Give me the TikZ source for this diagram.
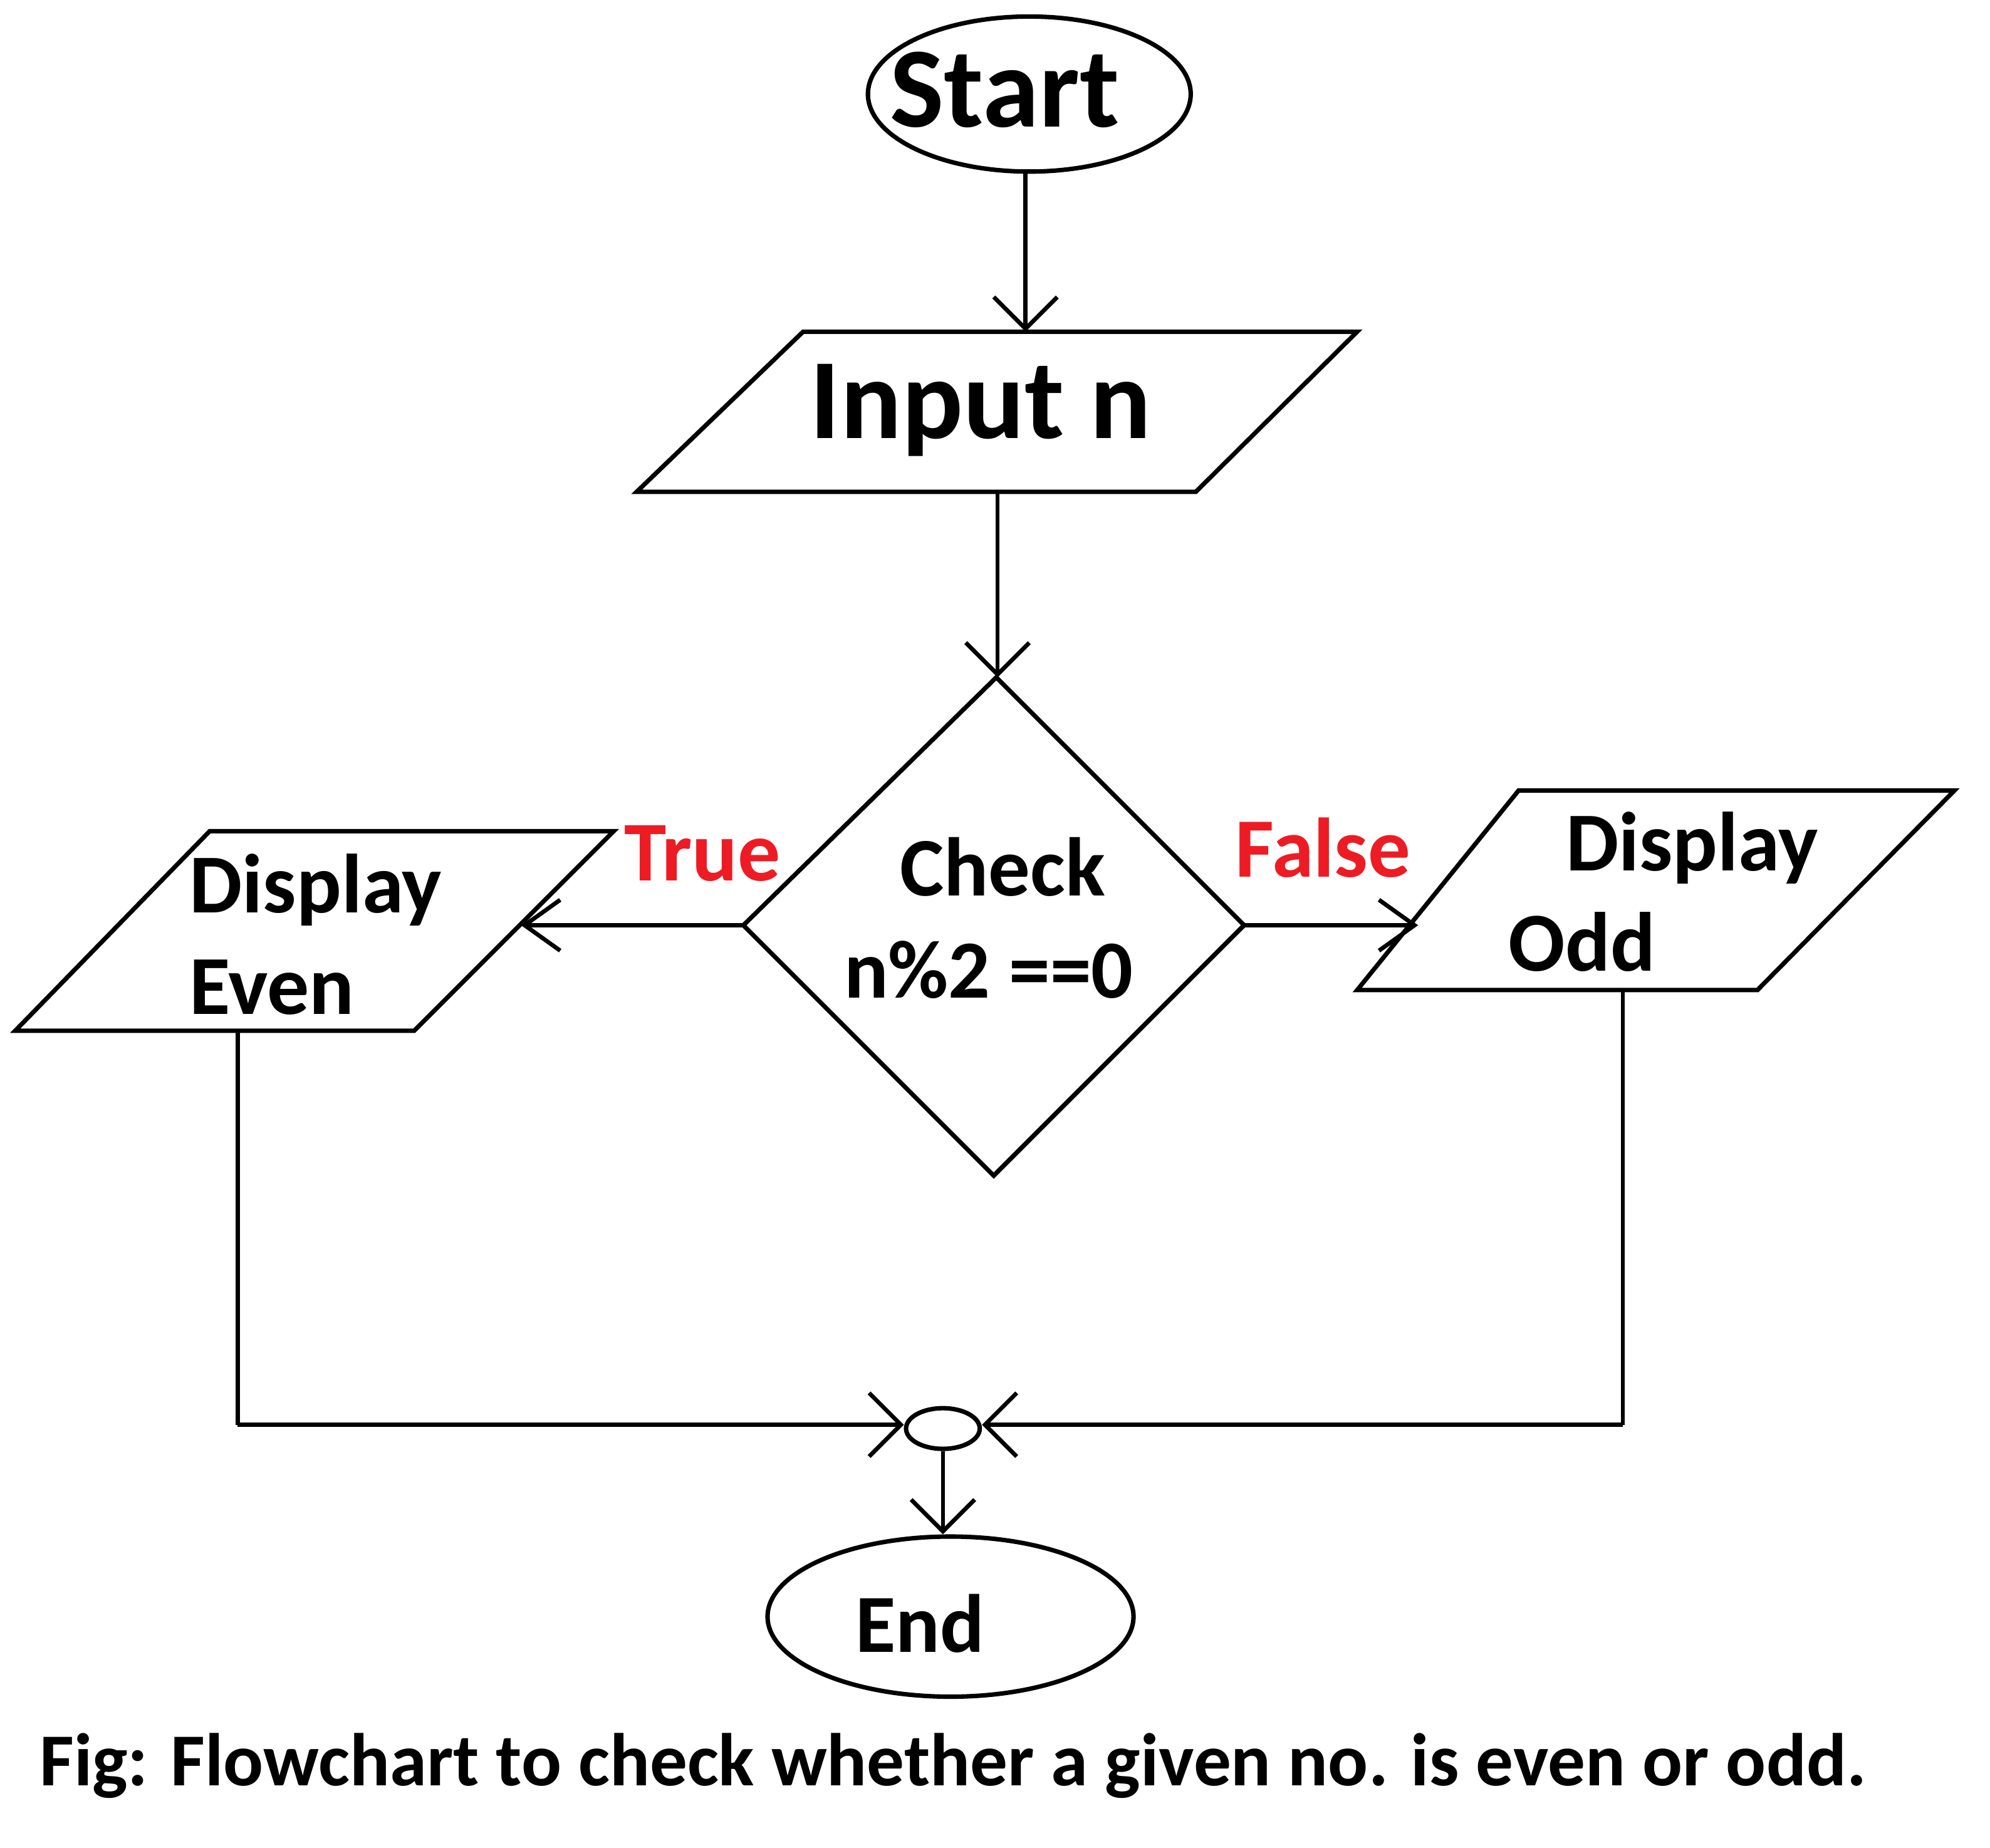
\documentclass[tikz,border=0pt]{standalone}
\usepackage{fontspec}
\setmainfont{Carlito}
\usetikzlibrary{arrows.meta,shapes.geometric}
\definecolor{lblred}{HTML}{ED1C24}
\tikzset{
  shape line/.style={draw=black,line width=3.5pt,line join=miter},
  conn/.style={draw=black,line width=3.3pt},
  arr/.style={conn,-{Straight Barb[length=25pt,width=50pt,line width=3.3pt]}},
  sarr/.style={conn,-{Straight Barb[length=28pt,width=40pt,line width=3.3pt]}},
  txt/.style={anchor=base west,inner sep=0pt,font=\bfseries\fontsize{66}{70}\selectfont},
  lbl/.style={txt,text=lblred,font=\bfseries\fontsize{67}{70}\selectfont},
}
\begin{document}
\begin{tikzpicture}[x=1pt,y=-1pt]
\useasboundingbox (0,0) rectangle (1566,1453.6);
\fill[white] (0,0) rectangle (1566,1453.6);
% terminals
\node[ellipse,shape line,minimum width=254pt,minimum height=122pt,inner sep=0pt] (start) at (810,74) {};
\node[txt,font=\bfseries\fontsize{90}{94}\selectfont] (starttxt) at (700,100) {Start};
\node[ellipse,shape line,minimum width=288pt,minimum height=126pt,inner sep=0pt] (end) at (748,1272) {};
\node[txt,font=\bfseries\fontsize{65}{68}\selectfont] (endtxt) at (673,1300) {End};
% input
\coordinate (inTL) at (632,261); \coordinate (inTR) at (1068,261);
\coordinate (inBR) at (941,387); \coordinate (inBL) at (501,387);
\draw[shape line] (inTL) -- (inTR) -- (inBR) -- (inBL) -- cycle;
\node[txt,font=\bfseries\fontsize{90}{94}\selectfont] (intxt) at (637,345) {Input n};
% decision
\coordinate (dT) at (784,533); \coordinate (dR) at (979,728);
\coordinate (dB) at (782,925); \coordinate (dL) at (585,728);
\draw[shape line] (dT) -- (dR) -- (dB) -- (dL) -- cycle;
\node[txt,font=\bfseries\fontsize{65.5}{70}\selectfont] (chk1) at (708,705) {Check};
\node[txt,font=\bfseries\fontsize{65}{70}\selectfont] (chk2) at (664,785) {n\%2 ==0};
% display even
\coordinate (eTL) at (165,654); \coordinate (eTR) at (483,654);
\coordinate (eBR) at (326,811); \coordinate (eBL) at (12,811);
\draw[shape line] (eTL) -- (eTR) -- (eBR) -- (eBL) -- cycle;
\node[txt] (ev1) at (149,718) {Display};
\node[txt] (ev2) at (149,798) {Even};
% display odd
\coordinate (oTL) at (1195,622); \coordinate (oTR) at (1538,622);
\coordinate (oBR) at (1383,779); \coordinate (oBL) at (1068,779);
\draw[shape line] (oTL) -- (oTR) -- (oBR) -- (oBL) -- cycle;
\node[txt] (od1) at (1232,685) {Display};
\node[txt] (od2) at (1187,764) {Odd};
% labels
\node[lbl] (truel) at (491,693) {True};
\node[lbl,font=\bfseries\fontsize{66.5}{70}\selectfont] (falsel) at (972,690) {False};
% connector
\node[ellipse,shape line,minimum width=58pt,minimum height=32pt,inner sep=0pt] (join) at (742,1124) {};
% connection points
\coordinate (inTop) at (807,261);
\coordinate (inBot) at (785,387);
\coordinate (eIn) at (410,728);
\coordinate (oIn) at (1116,728);
\coordinate (eOut) at (187,811);
\coordinate (oOut) at (1277,779);
\coordinate (eCorner) at (187,1121);
\coordinate (oCorner) at (1277,1121);
% connectors
\draw[arr] (start.south -| inTop) -- (inTop);
\draw[arr] (inBot) -- (inBot |- dT);
\draw[sarr] (dL) -- (eIn);
\draw[sarr] (dR) -- (oIn);
\draw[conn] (eOut) -- (eCorner);
\draw[arr] (eCorner) -- (join.west |- eCorner);
\draw[conn] (oOut) -- (oCorner);
\draw[arr] (oCorner) -- (join.east |- oCorner);
\draw[arr] (join.south) -- (join.south |- end.north);
% caption
\node[txt,font=\bfseries\fontsize{58.8}{62}\selectfont] (cap) at (31,1405) {Fig: Flowchart to check whether a given no. is even or odd.};
\end{tikzpicture}
\end{document}
